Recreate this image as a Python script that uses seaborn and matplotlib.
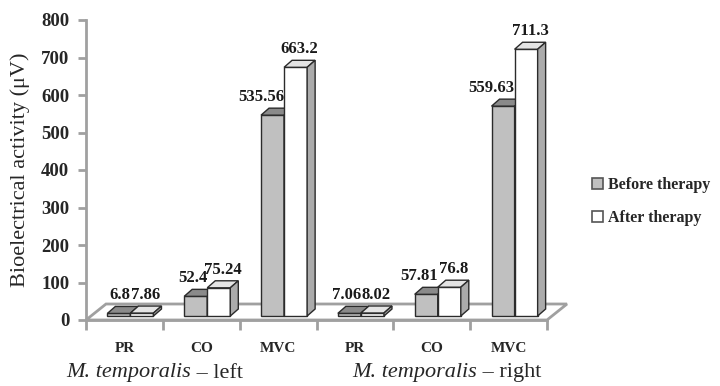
import numpy as np
import pandas as pd
import matplotlib
matplotlib.use("Agg")
import matplotlib.pyplot as plt
from matplotlib.patches import Polygon, Patch
import seaborn as sns

categories = ["PR", "CO", "MVC", "PR", "CO", "MVC"]
muscles = ["left", "left", "left", "right", "right", "right"]
before = [6.8, 52.4, 535.56, 7.06, 57.81, 559.63]
after = [7.86, 75.24, 663.2, 8.02, 76.8, 711.3]
phases = ["Before therapy", "After therapy"]
yticks = [0, 100, 200, 300, 400, 500, 600, 700, 800]

keys = [f"{m}-{c}" for m, c in zip(muscles, categories)]
df = pd.DataFrame({
    "key": keys * 2,
    "phase": [phases[0]] * 6 + [phases[1]] * 6,
    "value": before + after,
})

face = {"Before therapy": "#c0c0c0", "After therapy": "#ffffff"}
top_c = {"Before therapy": "#8a8a8a", "After therapy": "#e4e4e4"}
side_c = {"Before therapy": "#9a9a9a", "After therapy": "#ababab"}
edge = "#2b2b2b"
grey = "#a0a0a0"

sns.set_theme(style="white")
plt.rcParams["font.family"] = ["Liberation Serif", "DejaVu Serif"]

fig = plt.figure(figsize=(7.2, 3.86), dpi=100)
ax = fig.add_axes([86 / 720, 66 / 386, 461 / 720, 300 / 386])
sns.barplot(data=df, x="key", y="value", hue="phase", order=keys, hue_order=phases,
            palette=face, width=0.6, saturation=1, edgecolor=edge, linewidth=1,
            legend=False, ax=ax)
ax.set_xlim(-0.5, 5.5)
ax.set_ylim(0, 800)

# pixel -> data offsets for the fake 3d look
ux = ax.bbox.width / 6
uy = ax.bbox.height / 800
def dx(px): return px / ux
def dy(py): return py / uy

# floor
fdx, fdy = dx(20), dy(16)
floor = Polygon([(-0.5, 0), (5.5, 0), (5.5 + fdx, fdy), (-0.5 + fdx, fdy)],
                closed=True, fc="white", ec=grey, lw=2, zorder=1, clip_on=False)
ax.add_patch(floor)

ox, oy = dx(6), dy(4)
bdx, bdy = dx(8), dy(7)
bars = sorted([p for p in ax.patches if p is not floor], key=lambda p: p.get_x())
for i, p in enumerate(bars):
    x0, w, h = p.get_x(), p.get_width(), p.get_height()
    idx = int(round(x0 + w / 2))
    phase = phases[0] if x0 + w / 2 < idx else phases[1]
    z = 3 + i * 0.1
    x0 += ox
    p.set_x(x0)
    p.set_y(oy)
    p.set_zorder(z)
    p.set_clip_on(False)
    top = Polygon([(x0, oy + h), (x0 + w, oy + h), (x0 + w + bdx, oy + h + bdy), (x0 + bdx, oy + h + bdy)],
                  closed=True, fc=top_c[phase], ec=edge, lw=1, zorder=z, clip_on=False)
    side = Polygon([(x0 + w, oy), (x0 + w + bdx, oy + bdy), (x0 + w + bdx, oy + h + bdy), (x0 + w, oy + h)],
                   closed=True, fc=side_c[phase], ec=edge, lw=1, zorder=z, clip_on=False)
    ax.add_patch(top)
    ax.add_patch(side)
    ly = oy + h + bdy + dy(3)
    if phase == phases[0]:
        ax.text(x0 + w, ly, f"{h:g}", ha="right", va="bottom", fontsize=12,
                fontweight="bold", color="#1a1a1a", zorder=10)
    else:
        ax.text(x0 + (w + bdx) / 2, ly, f"{h:g}", ha="center", va="bottom", fontsize=12,
                fontweight="bold", color="#1a1a1a", zorder=10)

# axes styling
for s in ["top", "right"]:
    ax.spines[s].set_visible(False)
for s in ["left", "bottom"]:
    ax.spines[s].set_color(grey)
    ax.spines[s].set_linewidth(2)
ax.set_yticks(yticks)
ax.set_yticklabels([str(v) for v in yticks], fontweight="bold", fontsize=13.5)
ax.tick_params(axis="y", length=6, width=2, color=grey, pad=6, left=True)
ax.set_xticks(range(6))
ax.set_xticklabels(categories, fontweight="bold", fontsize=11)
ax.set_xticks(np.arange(-0.5, 6, 1), minor=True)
ax.tick_params(axis="x", which="major", length=0, pad=16)
ax.tick_params(axis="x", which="minor", length=7, width=2, color=grey, direction="out", bottom=True)
ax.set_xlabel("")
ax.set_ylabel("Bioelectrical activity (\u03bcV)", fontsize=16, labelpad=8)

# muscle group labels
for xs, side in [(66, "left"), (352, "right")]:
    t = fig.text(xs / 720, 1 - 373 / 386, "M. temporalis", fontsize=16, style="italic", va="center")
    ax.annotate(f" \u2013 {side}", xy=(1, 0.5), xycoords=t, va="center", ha="left",
                fontsize=16, annotation_clip=False)

handles = [Patch(fc=face[ph], ec="#555555", lw=1.2) for ph in phases]
fig.legend(handles, phases, loc="upper left", bbox_to_anchor=(592 / 720, 1 - 177 / 386),
           frameon=False, handlelength=0.7, handleheight=0.7, handletextpad=0.3,
           labelspacing=1.05, borderaxespad=0, borderpad=0,
           prop={"family": "Liberation Serif", "weight": "bold", "size": 11.5})

fig.savefig("out.png", dpi=100)
